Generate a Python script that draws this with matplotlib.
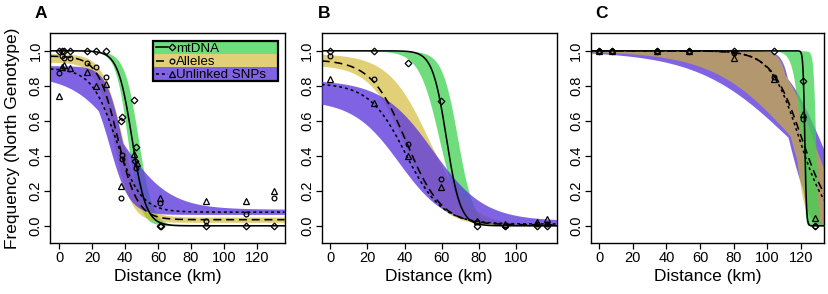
import numpy as np
import matplotlib
matplotlib.use("Agg")
import matplotlib.pyplot as plt
from matplotlib.patches import Rectangle
from matplotlib.lines import Line2D

plt.rcParams['font.family'] = ['Liberation Sans', 'DejaVu Sans']

# ---------------- data ----------------
series_names = ["mtDNA", "Alleles", "Unlinked SNPs"]

# Panel A observed frequencies
a_mt_x = [0, 1.5, 3, 6.5, 17.1, 22.1, 28.2, 37.3, 37.9, 45.2, 46.6, 46.0, 61, 61.8, 88.9, 113.6, 130.5]
a_mt_y = [1, 1, 1, 1, 1, 1, 1, 0.60, 0.62, 0.72, 0.45, 0.37, 0, 0, 0, 0, 0]
a_al_x = [0, 1.5, 3, 6.5, 17.1, 22.1, 28.2, 37.3, 37.9, 37.9, 46.6, 61, 88.9, 113.6, 130.5]
a_al_y = [0.875, 0.97, 0.96, 0.96, 0.93, 0.905, 0.85, 0.16, 0.405, 0.38, 0.33, 0.13, 0.03, 0.067, 0.16]
a_sn_x = [0, 1.5, 3, 6.5, 17.1, 22.1, 28.2, 37.3, 45.2, 47.0, 61, 88.9, 113.6, 130.5]
a_sn_y = [0.74, 0.91, 0.92, 0.90, 0.877, 0.80, 0.81, 0.23, 0.41, 0.36, 0.16, 0.14, 0.143, 0.20]

# Panel B observed frequencies
b_x = [0, 23.6, 42, 59.4, 78.7, 94.2, 111.2, 116.6]
b_mt_y = [1, 1, 0.93, 0.715, 0, 0, 0, 0]
b_al_y = [0.97, 0.84, 0.47, 0.27, 0.02, 0.0, 0.01, 0.01]
b_sn_y = [0.84, 0.70, 0.40, 0.22, 0.03, 0.01, 0.02, 0.04]

# Panel C observed frequencies
c_x = [0, 7.9, 34.4, 53.3, 80, 104.2, 121.5, 128.4]
c_mt_y = [1, 1, 1, 1, 1, 1, 0.83, 0]
c_al_y = [1, 1, 1, 1, 0.99, 0.85, 0.61, 0]
c_sn_y = [1, 1, 1, 1, 0.96, 0.84, 0.64, 0.044]

# Fitted clines: (center km, width km, pmin, pmax)
a_mt_cline = (44.2, 17, 0.0, 1.0)
a_al_cline = (35.5, 24, 0.035, 0.97)
a_sn_cline = (34.6, 30, 0.078, 0.90)
b_mt_cline = (62.5, 15, 0.0, 1.0)
b_al_cline = (41.0, 38, 0.005, 0.95)
b_sn_cline = (40.5, 39, 0.01, 0.815)
c_mt_cline = (122.3, 2, 0.0, 1.0)
c_al_cline = (120.5, 36, 0.0, 1.0)
c_sn_cline = (119.0, 34, 0.0, 1.0)

# 95% credible regions: envelopes of these clines
a_mt_band = [(41.5, 15, 0, 1), (48, 17, 0, 1)]
a_al_band = [(33, 22, 0.02, 0.935), (38, 24, 0.05, 0.985)]
a_sn_band = [(38.3, 57, 0.095, 0.86), (38, 20, 0.08, 0.915), (30.5, 24, 0.065, 0.85)]
b_mt_band = [(58.5, 22, 0, 1), (68.5, 17, 0, 1)]
b_al_band = [(53, 44, 0.0, 0.985), (40, 38, 0.0, 0.92)]
b_sn_band = [(55, 55, 0.03, 0.835), (37, 50, 0.0, 0.72)]
c_mt_band = [(120, 10, 0, 1), (121.3, 2, 0, 1), (128.7, 3, 0, 1)]
c_al_band = [(115, 95, 0, 1), (114, 28, 0, 1), (127, 36, 0, 1), (116, 12, 0, 1)]
c_sn_band = [(113, 110, 0, 1), (112.5, 26, 0, 1), (130.8, 45, 0, 1), (117, 12, 0, 1)]

x_ticks_a = [0, 20, 40, 60, 80, 100, 120]
x_ticks_b = [0, 20, 40, 60, 80, 100]
x_ticks_c = [0, 20, 40, 60, 80, 100, 120]
y_ticks = [0.0, 0.2, 0.4, 0.6, 0.8, 1.0]
y_tick_labels = ["0.0", "0.2", "0.4", "0.6", "0.8", "1.0"]

# ---------------- style ----------------
GREEN = (64/255, 210/255, 82/255)
YELLOW = (210/255, 182/255, 44/255)
PURPLE = (95/255, 60/255, 220/255)
A_G, A_Y, A_P = 0.75, 0.64, 0.8
GREEN_W = (112/255, 221/255, 125/255)
YELLOW_W = (226/255, 208/255, 120/255)
PURPLE_W = (127/255, 99/255, 227/255)

LW = 1.15
STY = {
    "mt": dict(ls="-", marker="D", ms=3.4),
    "al": dict(ls=(0, (5, 3)), marker="o", ms=3.4),
    "sn": dict(ls=(0, (1.8, 1.9)), marker="^", ms=3.8),
}


def cline(x, c, w, pmin, pmax):
    return pmin + (pmax - pmin) / (1.0 + np.exp(4.0 * (x - c) / w))


def band(ax, x, sets, color, alpha, z):
    curves = np.array([cline(x, *s) for s in sets])
    ax.fill_between(x, curves.min(axis=0), curves.max(axis=0),
                    color=color, alpha=alpha, lw=0, zorder=z)


fig = plt.figure(figsize=(8.29, 2.94), dpi=100)
W, H = 829.0, 294.0
boxes = [(50.5, 234.0), (321.7, 235.0), (590.6, 233.7)]
top_px, bot_px = 33.3, 243.3
xlims = [(-5.26, 136.8), (-4.6, 121.8), (-5.0, 133.9)]
xticks = [x_ticks_a, x_ticks_b, x_ticks_c]

panels = [
    dict(pts=[(a_mt_x, a_mt_y), (a_al_x, a_al_y), (a_sn_x, a_sn_y)],
         lines=[a_mt_cline, a_al_cline, a_sn_cline],
         bands=[a_mt_band, a_al_band, a_sn_band], order=["g", "y", "p"]),
    dict(pts=[(b_x, b_mt_y), (b_x, b_al_y), (b_x, b_sn_y)],
         lines=[b_mt_cline, b_al_cline, b_sn_cline],
         bands=[b_mt_band, b_al_band, b_sn_band], order=["g", "y", "p"]),
    dict(pts=[(c_x, c_mt_y), (c_x, c_al_y), (c_x, c_sn_y)],
         lines=[c_mt_cline, c_al_cline, c_sn_cline],
         bands=[c_mt_band, c_al_band, c_sn_band], order=["p", "y", "g"]),
]

axes = []
for i, (left, width) in enumerate(boxes):
    ax = fig.add_axes([left / W, 1 - bot_px / H, width / W, (bot_px - top_px) / H])
    axes.append(ax)
    p = panels[i]
    xl = xlims[i]
    xs = np.linspace(xl[0], xl[1], 1500)
    cols = {"g": (GREEN, A_G, p["bands"][0]), "y": (YELLOW, A_Y, p["bands"][1]),
            "p": (PURPLE, A_P, p["bands"][2])}
    for z, k in enumerate(p["order"]):
        c, a, s = cols[k]
        band(ax, xs, s, c, a, 1 + z)
    for key, (px, py), par in zip(["mt", "al", "sn"], p["pts"], p["lines"]):
        st = STY[key]
        ax.plot(xs, cline(xs, *par), color="black", lw=LW, ls=st["ls"], zorder=6)
        ax.plot(px, py, ls="none", marker=st["marker"], ms=st["ms"], mfc="none",
                mec="black", mew=0.9, zorder=7)
    ax.set_xlim(*xl)
    ax.set_ylim(-0.1, 1.1)
    ax.set_xticks(xticks[i])
    ax.set_xticklabels([str(t) for t in xticks[i]])
    ax.set_yticks(y_ticks)
    ax.set_yticklabels(y_tick_labels, rotation=90, va="center")
    ax.tick_params(axis="both", direction="out", length=4, width=0.9,
                   labelsize=10.5, color="black", pad=1.5)
    for sp in ax.spines.values():
        sp.set_linewidth(1.0)
        sp.set_color("black")
    cx = (left + width / 2) / W
    fig.text(cx, 1 - 276.5 / H, "Distance (km)", ha="center", va="center", fontsize=12.5)

fig.text(12.5 / W, 1 - 138.3 / H, "Frequency (North Genotype)", rotation=90,
         ha="center", va="center", fontsize=12.5)

for lab, xp in zip(["A", "B", "C"], [35, 318, 595]):
    fig.text(xp / W, 1 - 6 / H, lab, ha="left", va="top", fontsize=12.5, fontweight="bold")

# ---------------- legend (panel A) ----------------
ax = axes[0]
ax_h = bot_px - top_px
lx0, lx1 = 0.44, 0.973
ly1 = 1 - (40.5 - top_px) / ax_h
ly0 = 1 - (80.5 - top_px) / ax_h
rh = (ly1 - ly0) / 3
row_cols = [GREEN_W, YELLOW_W, PURPLE_W]
for j, (name, key) in enumerate(zip(series_names, ["mt", "al", "sn"])):
    yb = ly1 - (j + 1) * rh
    ax.add_patch(Rectangle((lx0, yb), lx1 - lx0, rh, transform=ax.transAxes,
                           facecolor=row_cols[j], edgecolor="none", zorder=9))
    yc = yb + rh / 2
    st = STY[key]
    ax.add_line(Line2D([lx0 + 0.01, lx0 + 0.062], [yc, yc], transform=ax.transAxes,
                       color="black", lw=LW, ls=st["ls"], zorder=10))
    ax.add_line(Line2D([lx0 + 0.08], [yc], transform=ax.transAxes, ls="none",
                       marker=st["marker"], ms=st["ms"], mfc="none", mec="black",
                       mew=0.9, zorder=10))
    ax.text(lx0 + 0.097, yc, name, transform=ax.transAxes, ha="left",
            va="center_baseline", fontsize=9.6, zorder=11)
ax.add_patch(Rectangle((lx0, ly0), lx1 - lx0, ly1 - ly0, transform=ax.transAxes,
                       facecolor="none", edgecolor="black", lw=1.6, zorder=12))

fig.savefig("out.png", dpi=100)
